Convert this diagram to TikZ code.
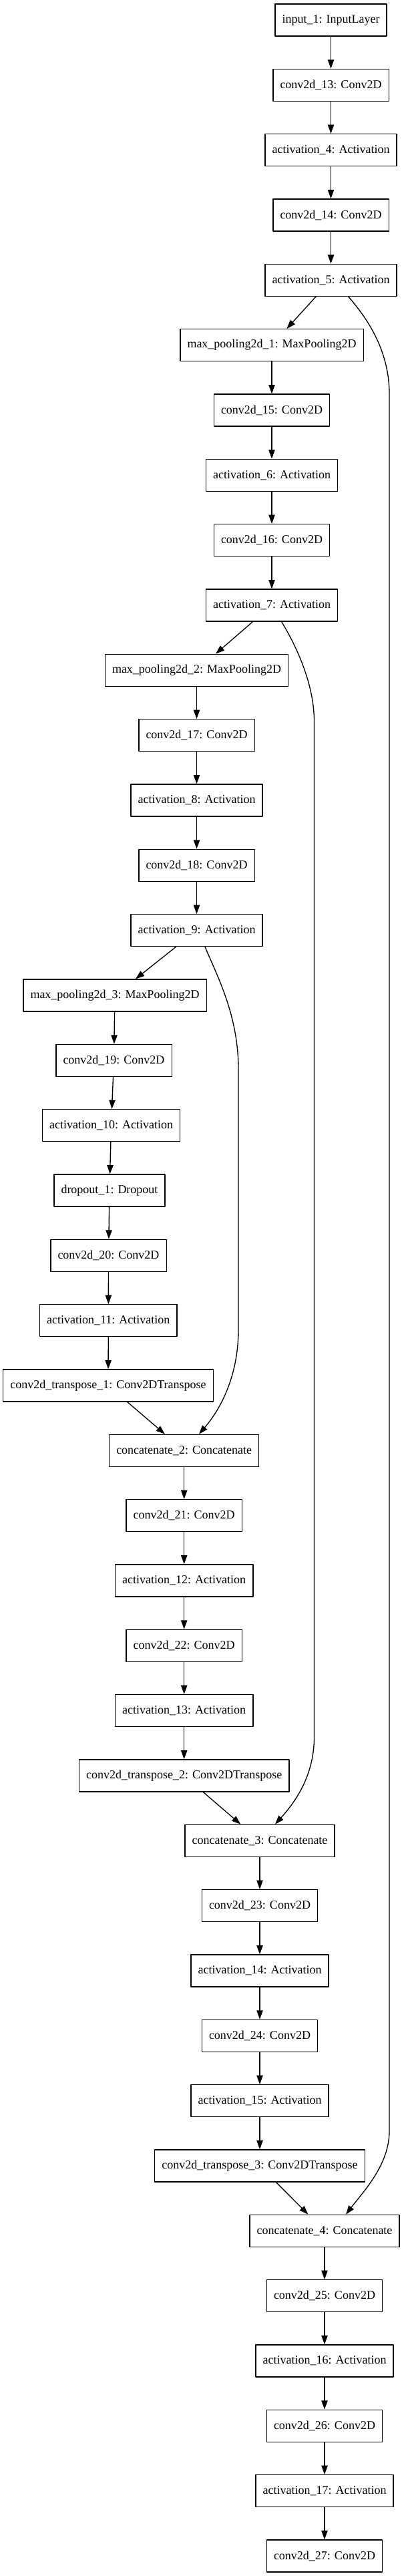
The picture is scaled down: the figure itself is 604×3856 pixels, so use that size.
\documentclass[tikz,border=0pt]{standalone}
\usepackage{fontspec}
\setmainfont{Liberation Serif}
\usetikzlibrary{arrows.meta,calc}
\tikzset{
  layer/.style={draw,line width=1pt,minimum height=36pt,inner xsep=8pt,inner ysep=2pt,
    font=\fontsize{13.5pt}{16pt}\selectfont},
  edge/.style={line width=1pt,-{Triangle[length=10pt,width=7pt]}}
}
\begin{document}
\begin{tikzpicture}[x=0.75pt,y=-0.75pt,line cap=round,line join=round]
  \useasboundingbox (0,0) rectangle (604,3856);
  % encoder
  \node[layer] (in1) at (495.5,30) {input\_1: InputLayer};
  \node[layer] (c13) at (495.5,127.33) {conv2d\_13: Conv2D};
  \node[layer] (a4) at (495.5,224.67) {activation\_4: Activation};
  \node[layer] (c14) at (495.5,322) {conv2d\_14: Conv2D};
  \node[layer] (a5) at (495.5,419.33) {activation\_5: Activation};
  \node[layer] (mp1) at (407,516.67) {max\_pooling2d\_1: MaxPooling2D};
  \node[layer] (c15) at (407,614) {conv2d\_15: Conv2D};
  \node[layer] (a6) at (407,711.33) {activation\_6: Activation};
  \node[layer] (c16) at (407,808.67) {conv2d\_16: Conv2D};
  \node[layer] (a7) at (407,906) {activation\_7: Activation};
  \node[layer] (mp2) at (294.5,1003.33) {max\_pooling2d\_2: MaxPooling2D};
  \node[layer] (c17) at (294.5,1100.67) {conv2d\_17: Conv2D};
  \node[layer] (a8) at (294.5,1198) {activation\_8: Activation};
  \node[layer] (c18) at (294.5,1295.33) {conv2d\_18: Conv2D};
  \node[layer] (a9) at (294.5,1392.67) {activation\_9: Activation};
  \node[layer] (mp3) at (172,1490) {max\_pooling2d\_3: MaxPooling2D};
  \node[layer] (c19) at (170.5,1587.33) {conv2d\_19: Conv2D};
  \node[layer] (a10) at (166.5,1684.67) {activation\_10: Activation};
  \node[layer] (do1) at (164,1782) {dropout\_1: Dropout};
  \node[layer] (c20) at (162.5,1879.33) {conv2d\_20: Conv2D};
  \node[layer] (a11) at (162.3,1976.67) {activation\_11: Activation};
  % decoder
  \node[layer] (ct1) at (162,2074) {conv2d\_transpose\_1: Conv2DTranspose};
  \node[layer] (cat2) at (275.7,2171.33) {concatenate\_2: Concatenate};
  \node[layer] (c21) at (275.7,2268.67) {conv2d\_21: Conv2D};
  \node[layer] (a12) at (275.7,2366) {activation\_12: Activation};
  \node[layer] (c22) at (275.7,2463.33) {conv2d\_22: Conv2D};
  \node[layer] (a13) at (275.7,2560.67) {activation\_13: Activation};
  \node[layer] (ct2) at (275.7,2658) {conv2d\_transpose\_2: Conv2DTranspose};
  \node[layer] (cat3) at (389,2755.33) {concatenate\_3: Concatenate};
  \node[layer] (c23) at (389,2852.67) {conv2d\_23: Conv2D};
  \node[layer] (a14) at (389,2950) {activation\_14: Activation};
  \node[layer] (c24) at (389,3047.33) {conv2d\_24: Conv2D};
  \node[layer] (a15) at (389,3144.67) {activation\_15: Activation};
  \node[layer] (ct3) at (389,3242) {conv2d\_transpose\_3: Conv2DTranspose};
  \node[layer] (cat4) at (486,3339.33) {concatenate\_4: Concatenate};
  \node[layer] (c25) at (486,3436.67) {conv2d\_25: Conv2D};
  \node[layer] (a16) at (486,3534) {activation\_16: Activation};
  \node[layer] (c26) at (486,3631.33) {conv2d\_26: Conv2D};
  \node[layer] (a17) at (486,3728.67) {activation\_17: Activation};
  \node[layer] (c27) at (486,3826) {conv2d\_27: Conv2D};
  % main chain
  \draw[edge] (in1) -- (c13);
  \draw[edge] (c13) -- (a4);
  \draw[edge] (a4) -- (c14);
  \draw[edge] (c14) -- (a5);
  \draw[edge] (a5) -- (mp1);
  \draw[edge] (mp1) -- (c15);
  \draw[edge] (c15) -- (a6);
  \draw[edge] (a6) -- (c16);
  \draw[edge] (c16) -- (a7);
  \draw[edge] (a7) -- (mp2);
  \draw[edge] (mp2) -- (c17);
  \draw[edge] (c17) -- (a8);
  \draw[edge] (a8) -- (c18);
  \draw[edge] (c18) -- (a9);
  \draw[edge] (a9) -- (mp3);
  \draw[edge] (mp3) -- (c19);
  \draw[edge] (c19) -- (a10);
  \draw[edge] (a10) -- (do1);
  \draw[edge] (do1) -- (c20);
  \draw[edge] (c20) -- (a11);
  \draw[edge] (a11) -- (ct1);
  \draw[edge] (ct1) -- (cat2);
  \draw[edge] (cat2) -- (c21);
  \draw[edge] (c21) -- (a12);
  \draw[edge] (a12) -- (c22);
  \draw[edge] (c22) -- (a13);
  \draw[edge] (a13) -- (ct2);
  \draw[edge] (ct2) -- (cat3);
  \draw[edge] (cat3) -- (c23);
  \draw[edge] (c23) -- (a14);
  \draw[edge] (a14) -- (c24);
  \draw[edge] (c24) -- (a15);
  \draw[edge] (a15) -- (ct3);
  \draw[edge] (ct3) -- (cat4);
  \draw[edge] (cat4) -- (c25);
  \draw[edge] (c25) -- (a16);
  \draw[edge] (a16) -- (c26);
  \draw[edge] (c26) -- (a17);
  \draw[edge] (a17) -- (c27);
  % skip connections
  \coordinate (r1a) at (583,590);
  \coordinate (r1b) at (583,3190);
  \coordinate (r2a) at (470.5,1080);
  \coordinate (r2b) at (470.5,2600);
  \coordinate (r3a) at (357,1600);
  \coordinate (r3b) at (357,1990);
  \draw[edge] ($(a5.south)+(26.2,0)$) .. controls +(23.3,27) and +(0,-70) .. (r1a)
    -- (r1b) .. controls +(0,50) and +(27,-35) .. ($(cat4.north)+(32,0)$);
  \draw[edge] ($(a7.south)+(14.6,0)$) .. controls +(18.4,30) and +(0,-60) .. (r2a)
    -- (r2b) .. controls +(0,60) and +(28,-31) .. ($(cat3.north)+(23,0)$);
  \draw[edge] ($(a9.south)+(12.5,0)$) .. controls +(18,43) and +(0,-80) .. (r3a)
    -- (r3b) .. controls +(0,70) and +(32,-37) .. ($(cat2.north)+(22.3,0)$);
\end{tikzpicture}
\end{document}
